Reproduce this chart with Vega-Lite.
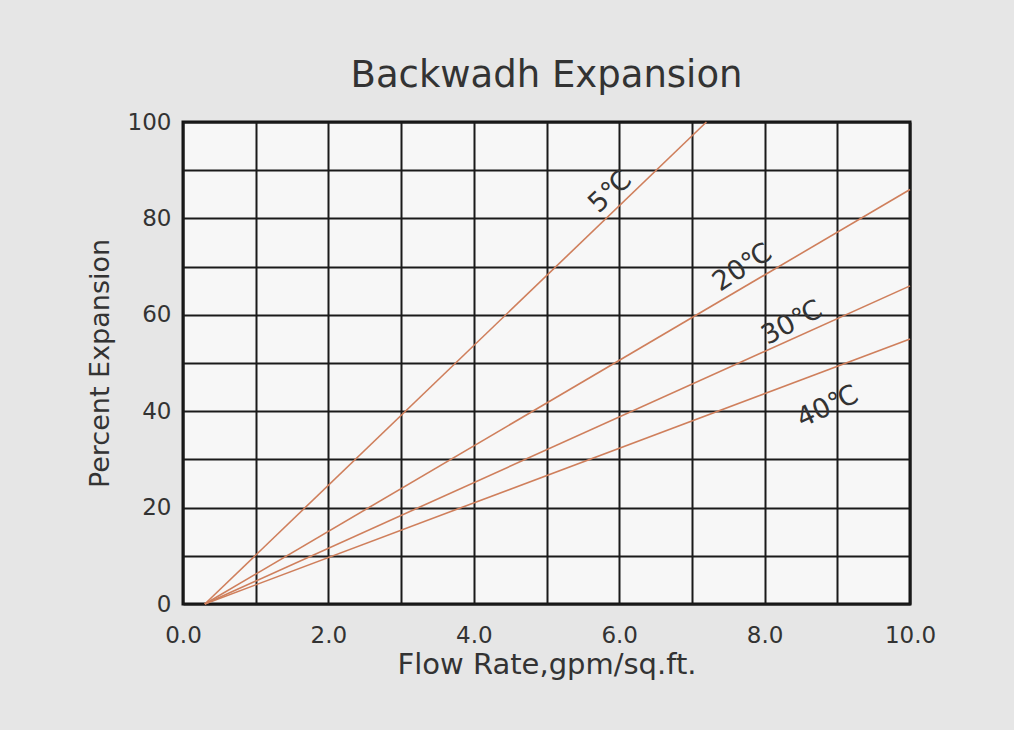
{
  "$schema": "https://vega.github.io/schema/vega-lite/v6.json",
  "autosize": {"type": "none"},
  "width": 727,
  "height": 482,
  "padding": {"left": 183, "top": 122, "right": 104, "bottom": 126},
  "background": "#e6e6e6",
  "title": {
    "text": "Backwadh Expansion",
    "font": "DejaVu Sans",
    "fontSize": 37,
    "fontWeight": "normal",
    "color": "#333333",
    "offset": 16,
    "anchor": "middle"
  },
  "config": {
    "view": {"stroke": "#111111", "strokeWidth": 3, "fill": "#f7f7f7"},
    "axis": {
      "labelFont": "DejaVu Sans",
      "titleFont": "DejaVu Sans",
      "labelColor": "#333333",
      "titleColor": "#333333",
      "labelFontSize": 23,
      "titleFontSize": 27,
      "titleFontWeight": "normal",
      "grid": true,
      "gridColor": "#1a1a1a",
      "gridWidth": 2,
      "gridOpacity": 1,
      "domain": false,
      "ticks": false
    }
  },
  "datasets": {
    "lines": [
      {"series": "5℃", "flow": 0.3, "pct": 0},
      {"series": "5℃", "flow": 7.2, "pct": 100},
      {"series": "20℃", "flow": 0.3, "pct": 0},
      {"series": "20℃", "flow": 10, "pct": 86},
      {"series": "30℃", "flow": 0.3, "pct": 0},
      {"series": "30℃", "flow": 10, "pct": 66},
      {"series": "40℃", "flow": 0.3, "pct": 0},
      {"series": "40℃", "flow": 10, "pct": 55}
    ],
    "labels": [
      {"series": "5℃", "flow": 5.88, "pct": 85.5},
      {"series": "20℃", "flow": 7.7, "pct": 69.8},
      {"series": "30℃", "flow": 8.38, "pct": 58.3},
      {"series": "40℃", "flow": 8.87, "pct": 40.9}
    ]
  },
  "encoding": {
    "x": {
      "field": "flow",
      "type": "quantitative",
      "scale": {"domain": [0, 10], "nice": false, "zero": true},
      "axis": {
        "title": "Flow Rate,gpm/sq.ft.",
        "titleFontSize": 29,
        "values": [0, 1, 2, 3, 4, 5, 6, 7, 8, 9, 10],
        "labelExpr": "datum.value % 2 == 0 ? format(datum.value, '.1f') : ''",
        "labelPadding": 20,
        "titlePadding": 3,
        "labelFlush": false
      }
    },
    "y": {
      "field": "pct",
      "type": "quantitative",
      "scale": {"domain": [0, 100], "nice": false},
      "axis": {
        "title": "Percent Expansion",
        "values": [0, 10, 20, 30, 40, 50, 60, 70, 80, 90, 100],
        "labelExpr": "datum.value % 20 == 0 ? datum.label : ''",
        "labelPadding": 12,
        "titlePadding": 13
      }
    }
  },
  "layer": [
    {
      "data": {"name": "lines"},
      "mark": {"type": "line", "color": "#cf7f5c", "strokeWidth": 1.6},
      "encoding": {"detail": {"field": "series"}}
    },
    {
      "data": {"name": "labels"},
      "transform": [{"filter": "datum.series == '5℃'"}],
      "mark": {"type": "text", "angle": -43, "font": "DejaVu Sans", "fontSize": 27, "color": "#333333"},
      "encoding": {"text": {"field": "series"}}
    },
    {
      "data": {"name": "labels"},
      "transform": [{"filter": "datum.series == '20℃'"}],
      "mark": {"type": "text", "angle": -33, "font": "DejaVu Sans", "fontSize": 27, "color": "#333333"},
      "encoding": {"text": {"field": "series"}}
    },
    {
      "data": {"name": "labels"},
      "transform": [{"filter": "datum.series == '30℃'"}],
      "mark": {"type": "text", "angle": -28, "font": "DejaVu Sans", "fontSize": 27, "color": "#333333"},
      "encoding": {"text": {"field": "series"}}
    },
    {
      "data": {"name": "labels"},
      "transform": [{"filter": "datum.series == '40℃'"}],
      "mark": {"type": "text", "angle": -25, "font": "DejaVu Sans", "fontSize": 27, "color": "#333333"},
      "encoding": {"text": {"field": "series"}}
    }
  ]
}
